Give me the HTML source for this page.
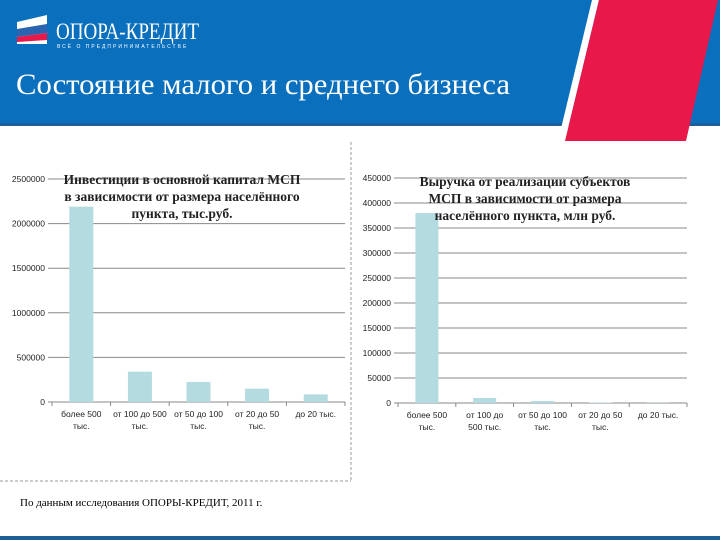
<!DOCTYPE html>
<html><head><meta charset="utf-8">
<style>
html,body{margin:0;padding:0;background:#fff;}
svg{display:block;font-family:"Liberation Sans","Noto Sans CJK SC",sans-serif;}
.serif{font-family:"Liberation Serif","Noto Serif CJK SC",serif;}
</style></head>
<body>
<svg id="root" width="720" height="540" viewBox="0 0 720 540">
  <rect x="0" y="0" width="720" height="125" fill="#0a6fbd"/>
  <rect x="0" y="123" width="720" height="3" fill="#1f5f99"/>
  <polygon points="592,0 599,0 565,141 558,141" fill="#ffffff"/>
  <polygon points="599,0 718,0 686,141 565,141" fill="#e8194a"/>
  <g>
    <polygon points="17,22 47,15 47,44 17,44" fill="#ffffff"/>
    <polygon points="17,29 47,24 47,33 17,37" fill="#2a63b0"/>
    <polygon points="17,37 47,33 47,40 17,42" fill="#e8194a"/>
    <text x="56" y="39" fill="#fff" font-size="23" class="serif" textLength="143" lengthAdjust="spacingAndGlyphs">ОПОРА-КРЕДИТ</text>
    <text x="57" y="48" fill="#fff" font-size="5" letter-spacing="2">ВСЁ О ПРЕДПРИНИМАТЕЛЬСТВЕ</text>
  </g>
  <text x="16" y="94" fill="#fff" font-size="30" class="serif" textLength="494" lengthAdjust="spacingAndGlyphs">Состояние малого и среднего бизнеса</text>
  <line x1="351" y1="142" x2="351" y2="481" stroke="#999" stroke-dasharray="3,2"/>
  <line x1="0" y1="481" x2="351" y2="481" stroke="#999" stroke-dasharray="3,2"/>
  <text x="20" y="506" font-size="11" class="serif">По данным исследования ОПОРЫ-КРЕДИТ, 2011 г.</text>
  <rect x="0" y="536" width="720" height="4" fill="#1e5f96"/>
  <g id="chart1"></g>
  <g id="chart2"></g>
</svg>
<script>
const categories1 = [["более 500","тыс."],["от 100 до 500","тыс."],["от 50 до 100","тыс."],["от 20 до 50","тыс."],["до 20 тыс."]];
const values1 = [2190000, 340000, 225000, 150000, 85000];
const ticks1 = [0, 500000, 1000000, 1500000, 2000000, 2500000];
const categories2 = [["более 500","тыс."],["от 100 до","500 тыс."],["от 50 до 100","тыс."],["от 20 до 50","тыс."],["до 20 тыс."]];
const values2 = [380000, 10000, 4000, 1000, 500];
const ticks2 = [0, 50000, 100000, 150000, 200000, 250000, 300000, 350000, 400000, 450000];
const NS = "http://www.w3.org/2000/svg";
function mk(parent, tag, attrs, text){
  const e = document.createElementNS(NS, tag);
  for (const k in attrs) e.setAttribute(k, attrs[k]);
  if (text !== undefined) e.textContent = text;
  parent.appendChild(e);
  return e;
}
function drawChart(g, cats, vals, ticks, box, titleLines, titleX, titleY, labFont){
  const max = ticks[ticks.length-1];
  const y = v => box.y0 - (v / max) * (box.y0 - box.y1);
  const bw = (box.x1 - box.x0) / cats.length;
  ticks.forEach(t => {
    const l = mk(g, "line", {x1: box.x0-4, x2: box.x1, y1: y(t), y2: y(t), stroke: "#888", "stroke-width": 1});
    
    
    const tx = mk(g, "text", {x: box.x0-7, y: y(t)+3, "font-size": 8.5, "text-anchor": "end", fill: "#222"}, String(t));
    
    
  });
  for (let i = 0; i <= cats.length; i++) {
    const tk = mk(g, "line", {x1: box.x0+i*bw, x2: box.x0+i*bw, y1: box.y0, y2: box.y0+4, stroke: "#888"});
    
    
  }
  vals.forEach((v, i) => {
    const cx = box.x0 + bw*(i+0.5);
    const r = mk(g, "rect", {x: cx - box.barW/2, y: y(v), width: box.barW, height: Math.max(0, box.y0 - y(v)), fill: "#b4dbe0"});
    
    
    cats[i].forEach((line, j) => {
      const t = mk(g, "text", {x: cx, y: box.y0 + 15 + j*12, "font-size": labFont, "text-anchor": "middle", fill: "#222"}, line);
      
      
    });
  });
  titleLines.forEach((line, j) => {
    const t = mk(g, "text", {x: titleX, y: titleY + j*17, "font-size": 13.5, "font-weight": "bold", "text-anchor": "middle", fill: "#222", class: "serif"}, line);
    
    
  });
}
drawChart(document.getElementById("chart1"), categories1, values1, ticks1,
  {x0: 52, x1: 345, y0: 402, y1: 179, barW: 24},
  ["Инвестиции в основной капитал  МСП", "в зависимости от размера населённого", "пункта, тыс.руб."], 182, 184, 8.5);
drawChart(document.getElementById("chart2"), categories2, values2, ticks2,
  {x0: 398, x1: 687, y0: 403, y1: 178, barW: 23},
  ["Выручка от реализации субъектов", "МСП в зависимости от размера", "населённого пункта, млн руб."], 525, 186, 8.5);
</script>
</body></html>
